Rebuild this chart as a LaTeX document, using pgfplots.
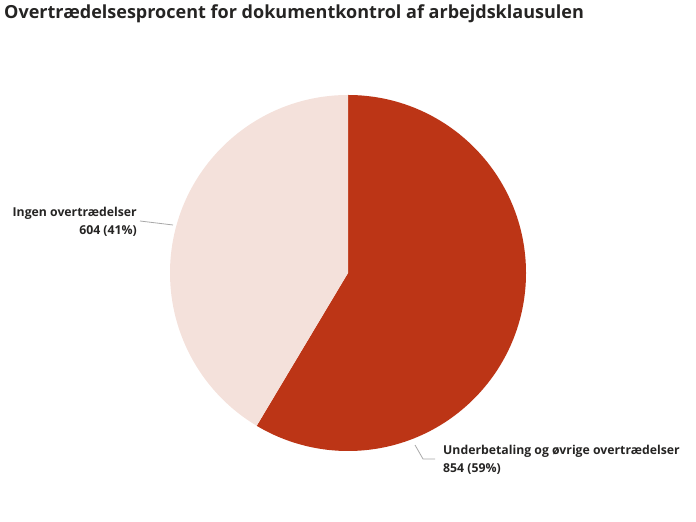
\documentclass[border=0pt]{standalone}
\usepackage{fontspec}
\setmainfont{Open Sans}
\usepackage{pgfplots}
\usepackage{pgfplotstable}
\pgfplotsset{compat=1.18}

\definecolor{slicered}{HTML}{BC3516}
\definecolor{slicelight}{HTML}{F4E1DB}
\definecolor{txt}{HTML}{252423}
\definecolor{lead}{HTML}{A8A8A8}

% pie data: value per slice
\pgfplotstableread{
label value
Underbetaling 854
Ingen 604
}\piedata

\pgfplotstablegetelem{0}{value}\of\piedata \let\va\pgfplotsretval
\pgfplotstablegetelem{1}{value}\of\piedata \let\vb\pgfplotsretval
\pgfmathsetmacro\tot{\va+\vb}
\pgfmathsetmacro\frac{\va/\tot}
\pgfmathsetmacro\aend{90-360*\frac}
\pgfmathsetmacro\bend{\aend+360}

\begin{document}
\begin{tikzpicture}
\begin{axis}[
  hide axis, scale only axis, clip=false,
  width=696bp, height=522bp,
  xmin=0, xmax=696, ymin=0, ymax=522,
]
% full canvas
\path (axis cs:0,0) rectangle (axis cs:696,522);

% slices, clockwise from 12 o'clock
\fill[slicered] (axis cs:348,249) -- (axis cs:348,427)
  arc[start angle=90, end angle=\aend, radius=178bp] -- cycle;
\fill[slicelight] (axis cs:348,249) -- (axis cs:348,427)
  arc[start angle=90, end angle=\bend, radius=178bp] -- cycle;

% leader lines
\draw[lead, line width=0.8bp] (axis cs:140,301) -- (axis cs:173,297);
\draw[lead, line width=0.8bp] (axis cs:415,77) -- (axis cs:423,63) -- (axis cs:435,63);

% title
\node[anchor=base west, inner sep=0pt, text=txt, font=\bfseries\fontsize{18.1}{22}\selectfont]
  at (axis cs:4,503) {Overtrædelsesprocent for dokumentkontrol af arbejdsklausulen};

% labels
\node[anchor=base east, inner sep=0pt, text=txt, font=\bfseries\fontsize{12.3}{15}\selectfont]
  at (axis cs:137,305) {Ingen overtrædelser};
\node[anchor=base east, inner sep=0pt, text=txt, font=\bfseries\fontsize{12.3}{15}\selectfont]
  at (axis cs:137,287) {604 (41\%)};
\node[anchor=base west, inner sep=0pt, text=txt, font=\bfseries\fontsize{12.3}{15}\selectfont]
  at (axis cs:443,67) {Underbetaling og øvrige overtrædelser};
\node[anchor=base west, inner sep=0pt, text=txt, font=\bfseries\fontsize{12.3}{15}\selectfont]
  at (axis cs:443,49) {854 (59\%)};
\end{axis}
\end{tikzpicture}
\end{document}
